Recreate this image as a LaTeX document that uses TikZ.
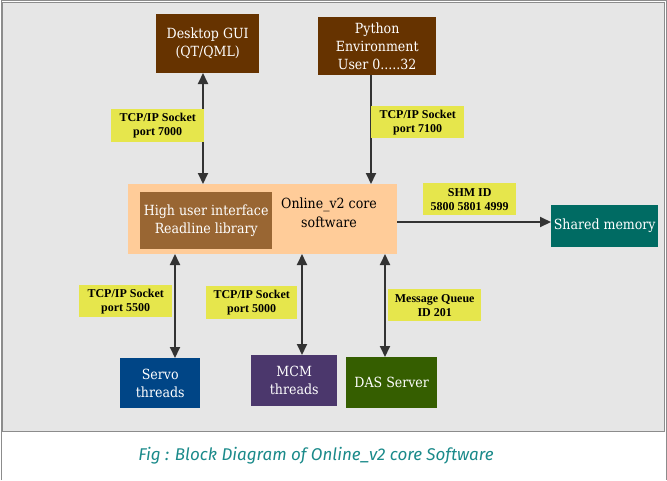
\documentclass[tikz,border=0pt]{standalone}
\usepackage{fontspec}
\setmainfont{DejaVu Serif Condensed}
\newfontfamily\lblfont{Liberation Serif}
\newfontfamily\capfont{Fira Sans}
\usetikzlibrary{arrows.meta}
\definecolor{bgray}{HTML}{E6E6E6}
\definecolor{frame}{HTML}{8C8C8C}
\definecolor{dbrown}{HTML}{663300}
\definecolor{mbrown}{HTML}{996633}
\definecolor{peach}{HTML}{FFCC99}
\definecolor{lblyellow}{HTML}{E6E64C}
\definecolor{teal1}{HTML}{006B63}
\definecolor{servoblue}{HTML}{004586}
\definecolor{mcmpurple}{HTML}{4B376C}
\definecolor{dasgreen}{HTML}{355E00}
\definecolor{arrowgray}{HTML}{333333}
\definecolor{captealc}{HTML}{1A8A8A}
\begin{document}
\begin{tikzpicture}[x=1pt,y=-1pt,
  blk/.style={anchor=north west,inner sep=0pt,text=white,align=center,font=\fontsize{14}{18}\selectfont},
  lbl/.style={anchor=north west,fill=lblyellow,inner sep=0pt,text=black,align=center,font=\lblfont\bfseries\fontsize{12}{14}\selectfont},
  conn/.style={draw=arrowgray,line width=2pt},
  tip/.style={-{Triangle[length=11pt,width=10pt]}},
  dtip/.style={{Triangle[length=11pt,width=10pt]}-{Triangle[length=11pt,width=10pt]}}]
\useasboundingbox (0,0) rectangle (667,480);
\fill[white] (0,0) rectangle (667,480);
\draw[frame,line width=1pt] (1,480) -- (1,0.5) -- (666,0.5) -- (666,480);
\draw[fill=bgray,draw=frame,line width=1pt] (2.5,2.5) rectangle (664.5,431.5);
% boxes
\node[blk,fill=dbrown,minimum width=103pt,minimum height=59pt] (gui) at (156,14) {Desktop GUI\\(QT/QML)};
\node[blk,fill=dbrown,minimum width=118pt,minimum height=58pt] (py) at (318,17) {Python\\Environment\\User 0.....32};
\node[anchor=north west,fill=peach,inner sep=0pt,minimum width=269pt,minimum height=70pt] (core) at (128,184) {};
\node[blk,fill=mbrown,minimum width=132pt,minimum height=57pt] (hui) at (140,192) {High user interface\\Readline library};
\node[text=black,align=center,inner sep=0pt,font=\fontsize{14}{18.5}\selectfont] (coretxt) at (329,213) {Online\_v2 core\\software};
\node[blk,fill=teal1,minimum width=107pt,minimum height=42pt] (shm) at (551,205) {Shared memory};
\node[blk,fill=servoblue,minimum width=80pt,minimum height=50pt] (servo) at (120,358) {Servo\\threads};
\node[blk,fill=mcmpurple,minimum width=86pt,minimum height=51pt] (mcm) at (251,355) {MCM\\threads};
\node[blk,fill=dasgreen,minimum width=91pt,minimum height=51pt] (das) at (346,357) {DAS Server};
% coordinates on core
\coordinate (cguiT) at (203,184);
\coordinate (cpyT) at (371,184);
\coordinate (cservoB) at (175,254);
\coordinate (cmcmB) at (302,254);
\coordinate (cdasB) at (385,254);
\coordinate (cshmR) at (397,222);
\coordinate (gB) at (203,73);
\coordinate (pB) at (371,75);
\coordinate (sT) at (175,358);
\coordinate (mT) at (302,355);
\coordinate (dT) at (385,357);
\coordinate (shL) at (551,222);
% connectors
\draw[conn,dtip] (gB) -- (cguiT);
\draw[conn,tip] (pB) -- (cpyT);
\draw[conn,dtip] (cservoB) -- (sT);
\draw[conn,dtip] (cmcmB) -- (mT);
\draw[conn,dtip] (cdasB) -- (dT);
\draw[conn,tip] (cshmR) -- (shL);
% labels
\node[lbl,minimum width=93pt,minimum height=33pt] (l7000) at (111,109) {TCP/IP Socket\\port 7000};
\node[lbl,minimum width=93pt,minimum height=32pt] (l7100) at (371,106) {TCP/IP Socket\\port 7100};
\node[lbl,minimum width=93pt,minimum height=32pt] (lshm) at (423,183) {SHM ID\\5800 5801 4999};
\node[lbl,minimum width=93pt,minimum height=32pt] (l5500) at (79,285) {TCP/IP Socket\\port 5500};
\node[lbl,minimum width=91pt,minimum height=33pt] (l5000) at (206,286) {TCP/IP Socket\\port 5000};
\node[lbl,minimum width=93pt,minimum height=32pt] (lmq) at (388,289) {Message Queue\\ID 201};
% caption
\node[text=captealc,font=\capfont\itshape\fontsize{17}{19}\selectfont,inner sep=0pt] (cap) at (316,456) {Fig : Block Diagram of Online\_v2 core Software};
\end{tikzpicture}
\end{document}
